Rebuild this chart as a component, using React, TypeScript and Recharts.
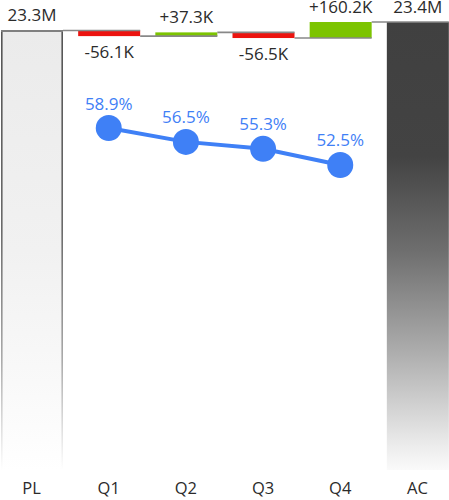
import React from "react"
import { ComposedChart, Bar, Line, XAxis, YAxis, LabelList } from "recharts"

// categories and values
const CATEGORIES = ["PL", "Q1", "Q2", "Q3", "Q4", "AC"]
const PL_VALUE = 23300000
const DELTAS = [-56100, 37300, -56500, 160200]
const MARGINS = [58.9, 56.5, 55.3, 52.5]

// the value axis is cut: bars start at this floor
const Y_FLOOR = 18905000
const Y_TOP = 23405000
const P_DOMAIN = [-0.3, 77.6]

const CHART_W = 463
const CHART_H = 500
const STEP = CHART_W / CATEGORIES.length
const BLUE = "#3f80f6"
const FONT = "'Open Sans', sans-serif"

const fmt = (v: number, signed = false) => {
  const a = Math.abs(v)
  const s = a >= 1e6 ? (a / 1e6).toFixed(1) + "M" : (a / 1e3).toFixed(1) + "K"
  if (v < 0) return "-" + s
  return signed ? "+" + s : s
}

type Row = {
  name: string
  range: [number, number]
  kind: "base" | "up" | "down" | "total"
  label: string
  margin: number | null
}

const buildRows = (): Row[] => {
  const rows: Row[] = [
    { name: CATEGORIES[0], range: [Y_FLOOR, PL_VALUE], kind: "base", label: fmt(PL_VALUE), margin: null },
  ]
  let level = PL_VALUE
  DELTAS.forEach((d, i) => {
    const start = level
    level += d
    rows.push({
      name: CATEGORIES[i + 1],
      range: [Math.min(start, level), Math.max(start, level)],
      kind: d < 0 ? "down" : "up",
      label: fmt(d, true),
      margin: MARGINS[i],
    })
  })
  rows.push({ name: CATEGORIES[5], range: [Y_FLOOR, level], kind: "total", label: fmt(level), margin: null })
  return rows
}

const rows = buildRows()

const BarShape = (props: any) => {
  const { x, y, width, height, index } = props
  const row: Row = props.payload?.kind ? props.payload : rows[index]
  const top = Math.min(y, y + height)
  const h = Math.abs(height)
  const bottom = top + h
  const gap = STEP - width

  if (row.kind === "base") {
    return (
      <g>
        <rect x={x} y={top} width={width} height={h} fill="url(#plFill)" />
        <rect x={x} y={top} width={1.6} height={h} fill="url(#plEdge)" />
        <rect x={x + width - 1.6} y={top} width={1.6} height={h} fill="url(#plEdge)" />
        <line x1={x} x2={x + width} y1={top + 0.5} y2={top + 0.5} stroke="#808080" strokeWidth={2} />
      </g>
    )
  }
  if (row.kind === "total") {
    return (
      <g>
        <rect x={x} y={top} width={width} height={h} fill="url(#acFill)" />
        <line x1={x - gap} x2={x + width} y1={top} y2={top} stroke="#888" strokeWidth={1.6} />
      </g>
    )
  }
  const startY = row.kind === "down" ? top : bottom
  return (
    <g>
      <rect x={x} y={top} width={width} height={h} fill={row.kind === "down" ? "#ec130f" : "#7cc400"} />
      <line x1={x - gap} x2={x + width} y1={startY} y2={startY} stroke="#888" strokeWidth={1.6} />
    </g>
  )
}

const BarLabel = (props: any) => {
  const { x, y, width, height, index } = props
  const row = rows[index]
  if (!row) return null
  const top = Math.min(y, y + height)
  const bottom = top + Math.abs(height)
  const ty = row.kind === "down" ? bottom + 22 : top - 9.5
  return (
    <text x={x + width / 2} y={ty} textAnchor="middle" fontSize={17} fill="#2b2b2b" fontFamily={FONT}>
      {row.label}
    </text>
  )
}

const MarginLabel = (props: any) => {
  const { x, y, value } = props
  if (value == null) return null
  return (
    <text x={x} y={y - 18.5} textAnchor="middle" fontSize={17} fill={BLUE} fontFamily={FONT}>
      {Number(value).toFixed(1)}%
    </text>
  )
}

export default function App() {
  return (
    <div style={{ position: "absolute", left: -7, top: 0, width: CHART_W, height: CHART_H, fontFamily: FONT }}>
      <ComposedChart width={CHART_W} height={CHART_H} data={rows} margin={{ top: 20, right: 0, bottom: 0, left: 0 }}>
        <defs>
          <linearGradient id="plFill" x1="0" y1="0" x2="0" y2="1">
            <stop offset="0" stopColor="#ebebeb" />
            <stop offset="0.5" stopColor="#f1f1f1" />
            <stop offset="0.8" stopColor="#f9f9f9" />
            <stop offset="1" stopColor="#ffffff" />
          </linearGradient>
          <linearGradient id="plEdge" x1="0" y1="0" x2="0" y2="1">
            <stop offset="0" stopColor="#555555" />
            <stop offset="0.45" stopColor="#6a6a6a" />
            <stop offset="0.75" stopColor="#aaaaaa" />
            <stop offset="1" stopColor="#ffffff" />
          </linearGradient>
          <linearGradient id="acFill" x1="0" y1="0" x2="0" y2="1">
            <stop offset="0" stopColor="#404040" />
            <stop offset="0.3" stopColor="#434343" />
            <stop offset="0.51" stopColor="#6e6e6e" />
            <stop offset="0.73" stopColor="#ababab" />
            <stop offset="0.95" stopColor="#ededed" />
            <stop offset="1" stopColor="#fafafa" />
          </linearGradient>
        </defs>
        <XAxis
          dataKey="name"
          height={30}
          axisLine={false}
          tickLine={false}
          tickMargin={6.5}
          interval={0}
          tick={{ fontSize: 16.5, fill: "#2b2b2b", fontFamily: FONT }}
        />
        <YAxis yAxisId="v" hide domain={[Y_FLOOR, Y_TOP]} allowDataOverflow />
        <YAxis yAxisId="p" hide domain={P_DOMAIN} allowDataOverflow />
        <Bar yAxisId="v" dataKey="range" barSize={62} shape={BarShape} isAnimationActive={false}>
          <LabelList dataKey="label" content={BarLabel} />
        </Bar>
        <Line
          yAxisId="p"
          dataKey="margin"
          stroke={BLUE}
          strokeWidth={4}
          dot={{ r: 13, fill: BLUE, stroke: "none" }}
          activeDot={false}
          isAnimationActive={false}
        >
          <LabelList dataKey="margin" content={MarginLabel} />
        </Line>
      </ComposedChart>
    </div>
  )
}
